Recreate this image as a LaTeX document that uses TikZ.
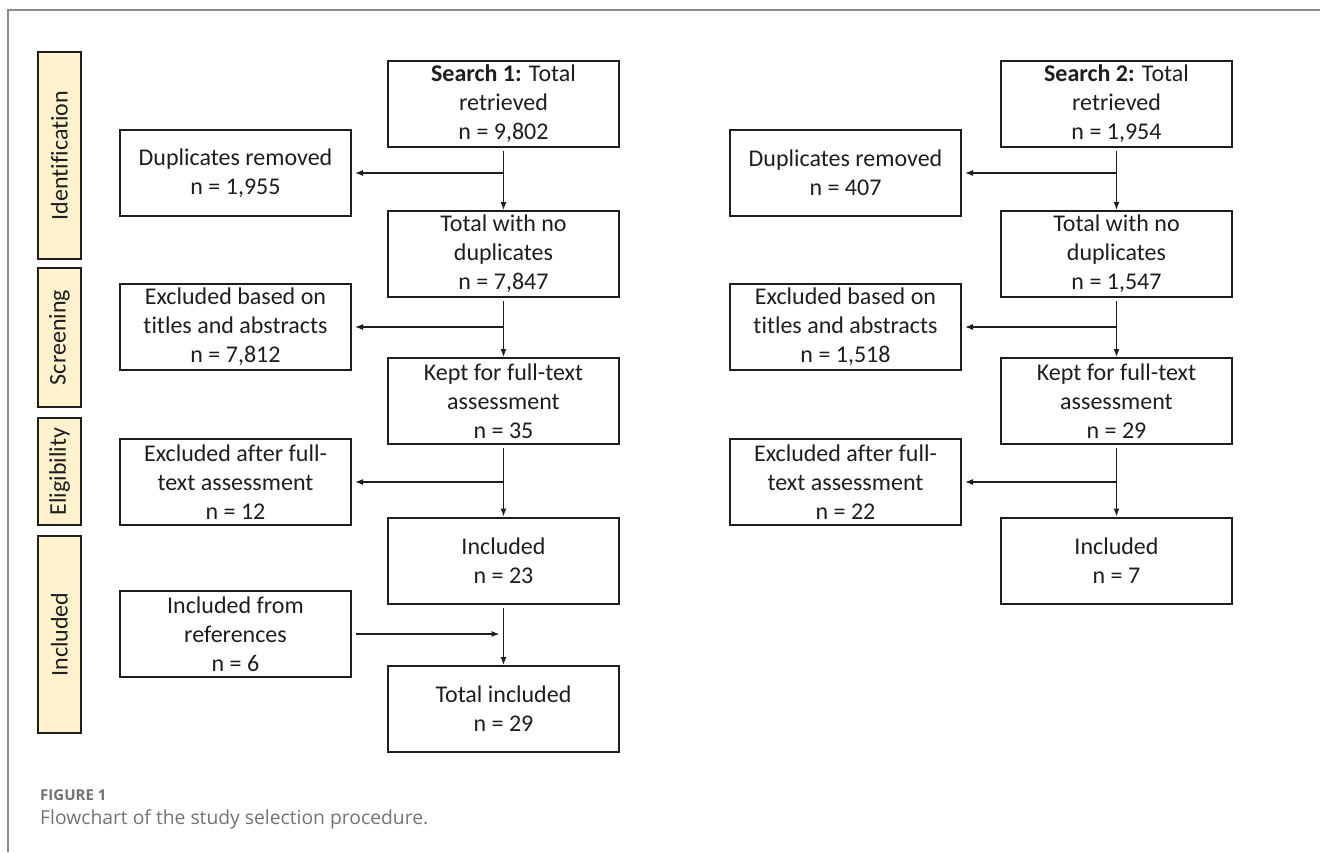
\documentclass[tikz,border=0pt]{standalone}
\usepackage{fontspec}
\setmainfont{Carlito}[Ligatures=NoCommon]
\newfontfamily\capfont{Open Sans}
\usepackage{tikz}
\usetikzlibrary{arrows.meta, positioning, calc}
\definecolor{phasefill} {RGB}{255, 242, 204}
\definecolor{framegray} {RGB}{140, 140, 140}
\definecolor{capgray}   {RGB}{115, 115, 115}
\definecolor{inkdark}   {RGB}{ 30,  30,  30}

\begin{document}
\begin{tikzpicture}[x=1pt,y=-1pt,
		box/.style={draw=inkdark,line width=2pt,minimum width=231pt,minimum height=86pt,
			align=center,inner sep=0pt,text=inkdark,font=\fontsize{24}{29}\selectfont},
		phase/.style={draw=inkdark,line width=2pt,fill=phasefill,minimum height=43pt,
			inner sep=0pt,rotate=90,text=inkdark,font=\fontsize{24}{26}\selectfont},
		arr/.style={draw=inkdark,line width=1.2pt,-{Latex[length=8pt,width=6pt]}}]
	\useasboundingbox (0,0) rectangle (1320,852);
	% frame of the figure
	\draw[framegray,line width=2pt] (8,852)--(8,10)--(1320,10);
	% phases
	\node[phase,minimum width=207pt] (pid) at (59.5,155.5) {Identification};
	\node[phase,minimum width=139pt] (psc) at (59.5,337.5) {Screening};
	\node[phase,minimum width=107pt] (pel) at (59.5,471.5) {Eligibility};
	\node[phase,minimum width=197pt] (pin) at (59.5,634.5) {Included};
	% search 1
	\node[box] (s1) at (503.5,104) {\textbf{Search 1:} Total\\retrieved\\n = 9,802};
	\node[box] (t1) at (503.5,254) {Total with no\\duplicates\\n = 7,847};
	\node[box] (k1) at (503.5,401) {Kept for full-text\\assessment\\n = 35};
	\node[box] (i1) at (503.5,560.5) {Included\\n = 23};
	\node[box] (f1) at (503.5,709) {Total included\\n = 29};
	\node[box] (d1) at (235.5,173) {Duplicates removed\\n = 1,955};
	\node[box] (e1) at (235.5,327) {Excluded based on\\titles and abstracts\\n = 7,812};
	\node[box] (x1) at (235.5,482) {Excluded after full-\\text assessment\\n = 12};
	\node[box] (r1) at (235.5,634) {Included from\\references\\n = 6};
	% search 2
	\node[box] (s2) at (1116.5,104) {\textbf{Search 2:} Total\\retrieved\\n = 1,954};
	\node[box] (t2) at (1116.5,254) {Total with no\\duplicates\\n = 1,547};
	\node[box] (k2) at (1116.5,401) {Kept for full-text\\assessment\\n = 29};
	\node[box] (i2) at (1116.5,560.5) {Included\\n = 7};
	\node[box] (d2) at (845.5,173) {Duplicates removed\\n = 407};
	\node[box] (e2) at (845.5,327) {Excluded based on\\titles and abstracts\\n = 1,518};
	\node[box] (x2) at (845.5,482) {Excluded after full-\\text assessment\\n = 22};
	% connectors
	\foreach \n in {1,2}{
		\draw[arr,shorten <=3pt] (s\n) -- (t\n);
		\draw[arr,shorten <=3pt] (t\n) -- (k\n);
		\draw[arr,shorten <=3pt] (k\n) -- (i\n);
		\draw[arr,shorten >=3pt] (s\n.south |- d\n) -- (d\n.east);
		\draw[arr,shorten >=3pt] (t\n.south |- e\n) -- (e\n.east);
		\draw[arr,shorten >=3pt] (k\n.south |- x\n) -- (x\n.east);
	}
	\draw[arr,shorten <=3pt] (i1) -- (f1);
	\draw[arr,shorten <=4pt,shorten >=4pt] (r1.east) -- (r1.east -| i1.south);
	% caption
	\node[anchor=base west,inner sep=0pt,text=capgray,font=\capfont\bfseries\fontsize{15}{18}\selectfont]
		(cap) at (40,800) {FIGURE 1};
	\node[anchor=base west,inner sep=0pt,text=capgray,font=\capfont\fontsize{19.3}{22}\selectfont]
		(captxt) at (40,824) {Flowchart of the study selection procedure.};
\end{tikzpicture}
\end{document}
